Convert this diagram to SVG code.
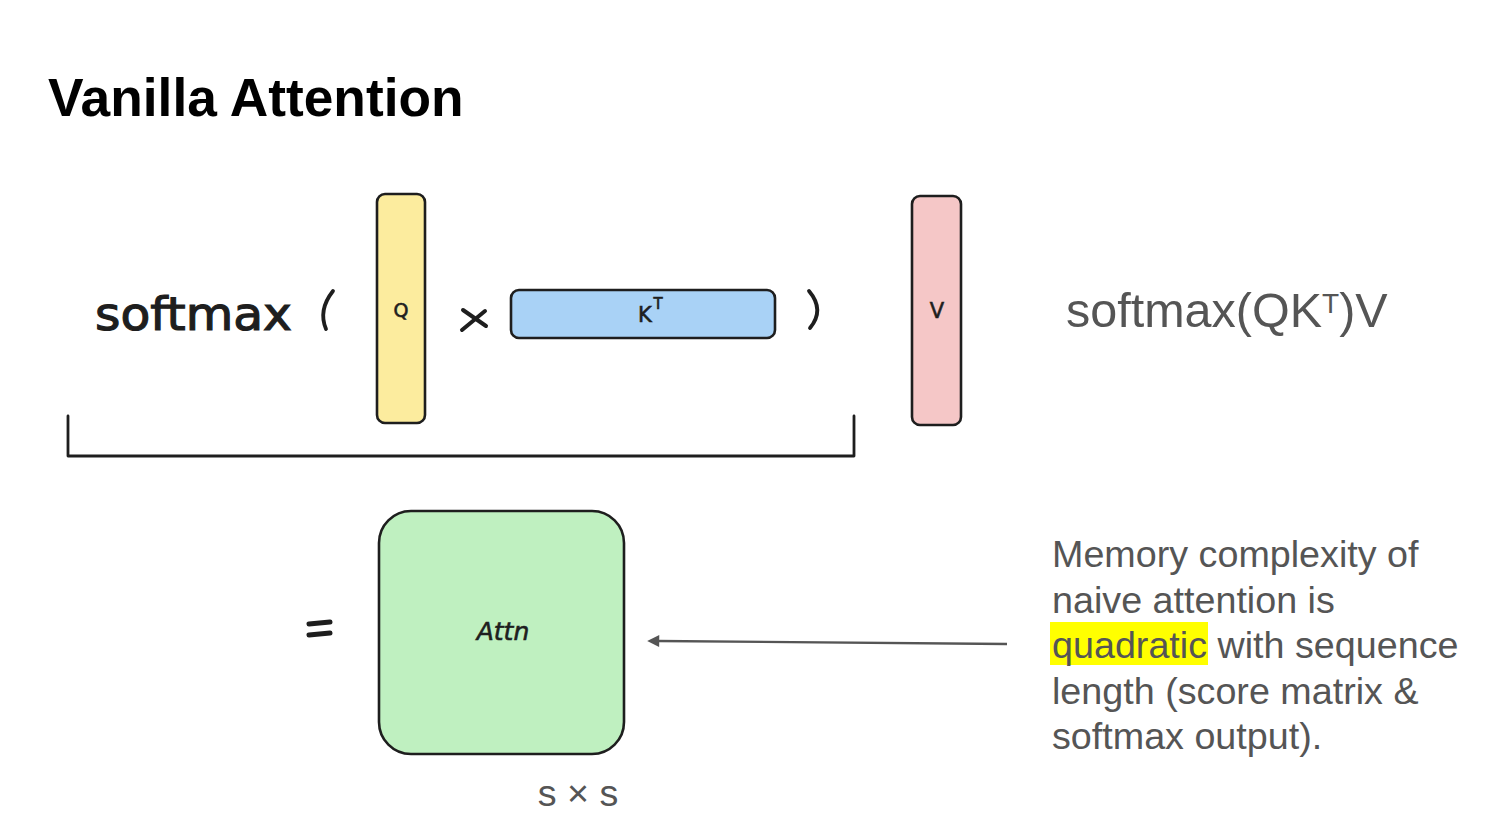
<svg xmlns="http://www.w3.org/2000/svg" width="1490" height="816" viewBox="0 0 1490 816">
  <style>
    .title { font-family: "Liberation Sans", Arial, sans-serif; font-weight: bold; font-size: 53.3px; fill: #000; }
    .hand { font-family: "DejaVu Sans", "Liberation Sans", sans-serif; fill: #1e1e1e; stroke: #1e1e1e; stroke-width: 0.6; }
    .note { font-family: "Liberation Sans", Arial, sans-serif; font-size: 37.7px; fill: #555; }
    .box { stroke: #1e1e1e; stroke-width: 2.6; }
    .ink { fill: none; stroke: #1e1e1e; stroke-width: 3.2; stroke-linecap: round; stroke-linejoin: round; }
  </style>
  <defs>
    <marker id="arrowhead" viewBox="0 0 10 10" refX="1" refY="5" markerWidth="5.5" markerHeight="5" orient="auto-start-reverse">
      <path d="M0,0 L10,5 L0,10 z" fill="#555"/>
    </marker>
  </defs>

  <rect width="1490" height="816" fill="#fff"/>

  <text class="title" x="48" y="116">Vanilla Attention</text>

  <!-- formula: softmax( Q x K^T ) V -->
  <g id="softmax-label">
    <text class="hand" x="95" y="330" style="font-size:46px; stroke-width:1.2" textLength="197" lengthAdjust="spacingAndGlyphs">softmax</text>
    <path class="ink" d="M333,291 Q318,310 326,329" style="stroke-width:3.8"/>
  </g>

  <g id="q-matrix">
    <rect class="box" x="377" y="194" width="48" height="229" rx="8" fill="#fcec9e"/>
    <text class="hand" x="401" y="317" style="font-size:19px" text-anchor="middle">Q</text>
  </g>

  <g id="times-sign">
    <path class="ink" d="M463,310 L486,326 M485,311 L462,330" style="stroke-width:4"/>
  </g>

  <g id="kt-matrix">
    <rect class="box" x="511" y="290" width="264" height="48" rx="8" fill="#a9d2f6"/>
    <text class="hand" x="645" y="322" style="font-size:21px" text-anchor="middle">K</text>
    <text class="hand" x="658" y="309" style="font-size:15px" text-anchor="middle">T</text>
  </g>

  <g id="close-paren">
    <path class="ink" d="M809,291 Q825,310 810,328" style="stroke-width:3.8"/>
  </g>

  <g id="v-matrix">
    <rect class="box" x="912" y="196" width="49" height="229" rx="8" fill="#f5c7c7"/>
    <text class="hand" x="937" y="318" style="font-size:21px" text-anchor="middle">V</text>
  </g>

  <g id="product-bracket">
    <path class="ink" d="M68,416 L68,456 L854,456 L854,416" style="stroke-width:2.8"/>
  </g>

  <g id="equals-sign">
    <path class="ink" d="M309,624 L330,622 M309,635 L330,633" style="stroke-width:5"/>
  </g>

  <g id="attn-matrix">
    <rect class="box" x="379" y="511" width="245" height="243" rx="32" fill="#bff0c0"/>
    <text class="hand" x="503" y="640" style="font-size:25px; font-style:italic" text-anchor="middle">Attn</text>
    <text class="note" x="578" y="806" text-anchor="middle">s × s</text>
  </g>

  <g id="formula-text">
    <text class="note" x="1066" y="327" style="font-size:48.5px">softmax(QK<tspan style="font-size:28px" dy="-14">T</tspan><tspan dy="14">)V</tspan></text>
  </g>

  <g id="memory-note">
    <rect x="1050" y="622" width="158" height="43" fill="#ffff00"/>
    <text class="note" x="1052" y="567">Memory complexity of</text>
    <text class="note" x="1052" y="613">naive attention is</text>
    <text class="note" x="1052" y="658">quadratic with sequence</text>
    <text class="note" x="1052" y="704">length (score matrix &amp;</text>
    <text class="note" x="1052" y="749">softmax output).</text>
  </g>

  <g id="connectors">
    <line x1="1007" y1="644" x2="658" y2="641" stroke="#555" stroke-width="2.4" marker-end="url(#arrowhead)"/>
  </g>
</svg>
